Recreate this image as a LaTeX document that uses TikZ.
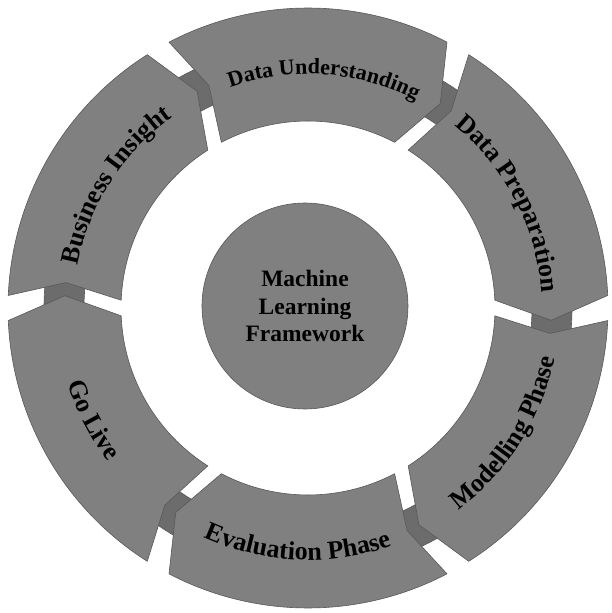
\documentclass[tikz,border=0pt]{standalone}
\usepackage{fontspec}
\setmainfont{Liberation Serif}
\usetikzlibrary{decorations.text}
\definecolor{segfill}{RGB}{128,128,128}
\definecolor{bandfill}{RGB}{108,108,108}
\definecolor{segedge}{RGB}{88,88,88}

\begin{document}
\begin{tikzpicture}[x=1pt, y=1pt,
		segment/.style={fill=segfill, draw=segedge, line width=0.6pt},
		band/.style={fill=bandfill, draw=segedge, line width=0.6pt, even odd rule},
		hub/.style={circle, fill=segfill, draw=segedge, line width=0.6pt, minimum size=206pt, inner sep=0pt, align=center, font=\fontsize{23.5}{27.5}\selectfont\bfseries}]
	\useasboundingbox (-308,-305) rectangle (303,308);

	% Background ring
	\draw[band] (0,0) circle[radius=264] (0,0) circle[radius=224];

	% Segments
	\foreach \c in {90,30,-30,-90,-150,150} {
		\draw[segment] (\c+27.6:300) arc[start angle=\c+27.6, end angle=\c-27.6, radius=300]
			-- (\c-32.9:243.5) -- (\c-27.6:187)
			arc[start angle=\c-27.6, end angle=\c+27.6, radius=187]
			-- (\c+24:243.5) -- cycle;
	}

	% Upper labels
	\foreach \c/\fs/\txt in {86/22/Data Understanding, 27.5/26/Data Preparation, 147.5/26/Business Insight} {
		\path[decorate, decoration={text along path, text align=center,
				text/.expanded={|\noexpand\fontsize{\fs}{\fs}\noexpand\selectfont\noexpand\bfseries|\txt}}]
			(\c+40:234) arc[start angle=\c+40, end angle=\c-40, radius=234];
	}

	% Lower labels
	\foreach \c/\fs/\txt in {-32.5/26/Modelling Phase, -92.5/26/Evaluation Phase, -152.5/26/Go Live} {
		\path[decorate, decoration={text along path, text align=center,
				text/.expanded={|\noexpand\fontsize{\fs}{\fs}\noexpand\selectfont\noexpand\bfseries|\txt}}]
			(\c-40:252) arc[start angle=\c-40, end angle=\c+40, radius=252];
	}

	% Hub
	\node[hub] (hub) at (-3,2) {Machine\\Learning\\Framework};
\end{tikzpicture}
\end{document}
